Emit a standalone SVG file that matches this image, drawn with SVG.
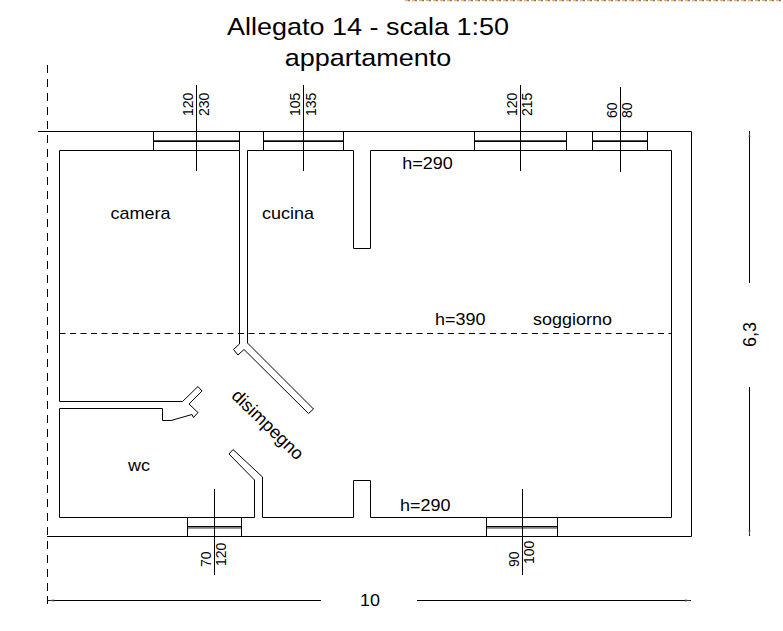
<svg xmlns="http://www.w3.org/2000/svg" width="783" height="631" viewBox="0 0 783 631">
<style>
text{font-family:"Liberation Sans",Arial,sans-serif;fill:#000}
.t{font-size:24px;text-anchor:middle}
.l{font-size:16px}
.r{font-size:18px}
.n{font-size:14px}
.w{fill:none;stroke:#000;stroke-width:1}
.p{fill:#9a9a9a;stroke:none}
.m{fill:none;stroke:#000;stroke-width:1.4}
</style>
<defs>
<marker id="a" markerWidth="7" markerHeight="3" refX="6" refY="1.5" orient="auto-start-reverse" markerUnits="userSpaceOnUse"><path d="M0 .6L6 1.500L0 2.400z" fill="#444"/></marker>
</defs>
<rect width="783" height="631" fill="#fff"/>
<g id="scan-edge" fill="none" stroke-width="1.2">
<path d="M405 .6H783" stroke="#f0b060" stroke-dasharray="3 4"/>
<path d="M408 .6H783" stroke="#778" stroke-dasharray="2 5"/>
</g>
<g id="title">
<text class="t" transform="translate(368 35) scale(1.125 1)">Allegato 14 - scala 1:50</text>
<text class="t" transform="translate(368 66) scale(1.125 1)">appartamento</text>
</g>
<g id="walls">
<path class="w" d="M38 131.500H691.500V536.500H47"/>
<path class="w" d="M59.500 150.500H239.500V344L233.500 349.500L238 355L244 349.500L308.500 413.500L313.500 409L247.500 343V150.500H353.500V248.500H370.500V150.500H671.500V517.500H370.500V480.500H353.500V517.500H262.500V477L233 449.500L229 454L254.500 480V517.500H59.500V408.500H162.500V420.500H171L192 414.500L193.500 417.500L198 412.500L189 404L202 391L198 386.500L182.500 401.500H59.500Z"/>
<path class="w" d="M239.500 131.500V150.500"/>
</g>
<g id="windows">
<path class="p" d="M153 140h86v1h-86zM264 140h80v1h-80zM474 140h92v1h-92zM592 140h55v1h-55zM188 528h53v1h-53zM487 528h70v1h-70z"/>
<path class="w" d="M153.500 131.500V150.500M263.500 131.500V150.500M343.500 131.500V150.500M474.500 131.500V150.500M566.500 131.500V150.500M592.500 131.500V150.500M647.500 131.500V150.500M187.500 517.500V536.500M241.500 517.500V536.500M486.500 517.500V536.500M557.500 517.500V536.500"/>
<path class="m" d="M153.500 141.300H239.500M263.500 141.300H343.500M474.500 141.300H566.500M592.500 141.300H647.500M187.500 526.800H241.500M486.500 526.800H557.500"/>
</g>
<g id="connectors">
<path class="w" d="M196.500 85V171M303.500 85V171M520.500 85V171M620.500 87V172M214.500 489V575M522.500 489V575"/>
<path class="w" stroke-dasharray="8 6" d="M47.500 65V600"/>
<path class="w" stroke-dasharray="6 4.500" d="M59.500 333.500H671"/>
<path class="w" d="M47.500 596V604"/>
<path class="w" marker-start="url(#a)" d="M48 600.500H321"/>
<path class="w" marker-end="url(#a)" d="M417 600.500H691"/>
<path class="w" marker-start="url(#a)" d="M749.500 131V283"/>
<path class="w" marker-end="url(#a)" d="M749.500 387V536"/>
</g>
<g id="labels">
<text class="l" transform="translate(110.500 219) scale(1.125 1)">camera</text>
<text class="l" transform="translate(262 219) scale(1.125 1)">cucina</text>
<text class="l" transform="translate(402.300 169.300) scale(1.125 1)">h=290</text>
<text class="l" transform="translate(435 325) scale(1.125 1)">h=390</text>
<text class="l" transform="translate(533 325) scale(1.125 1)">soggiorno</text>
<text class="l" transform="translate(128 470.500) scale(1.125 1)">wc</text>
<text class="l" transform="translate(400 511.300) scale(1.125 1)">h=290</text>
<text class="r" transform="translate(230.500 397) rotate(44)">disimpegno</text>
<text class="l" transform="translate(360 606) scale(1.125 1)">10</text>
<text class="r" transform="translate(756 347) rotate(-90)">6,3</text>
<text class="n" transform="translate(193 116) rotate(-90)">120</text>
<text class="n" transform="translate(209 116) rotate(-90)">230</text>
<text class="n" transform="translate(300 116) rotate(-90)">105</text>
<text class="n" transform="translate(316 116) rotate(-90)">135</text>
<text class="n" transform="translate(517 116) rotate(-90)">120</text>
<text class="n" transform="translate(532 116) rotate(-90)">215</text>
<text class="n" transform="translate(617 118) rotate(-90)">60</text>
<text class="n" transform="translate(632 118) rotate(-90)">80</text>
<text class="n" transform="translate(211 567) rotate(-90)">70</text>
<text class="n" transform="translate(226 566) rotate(-90)">120</text>
<text class="n" transform="translate(519 567) rotate(-90)">90</text>
<text class="n" transform="translate(534 564) rotate(-90)">100</text>
</g>
</svg>
